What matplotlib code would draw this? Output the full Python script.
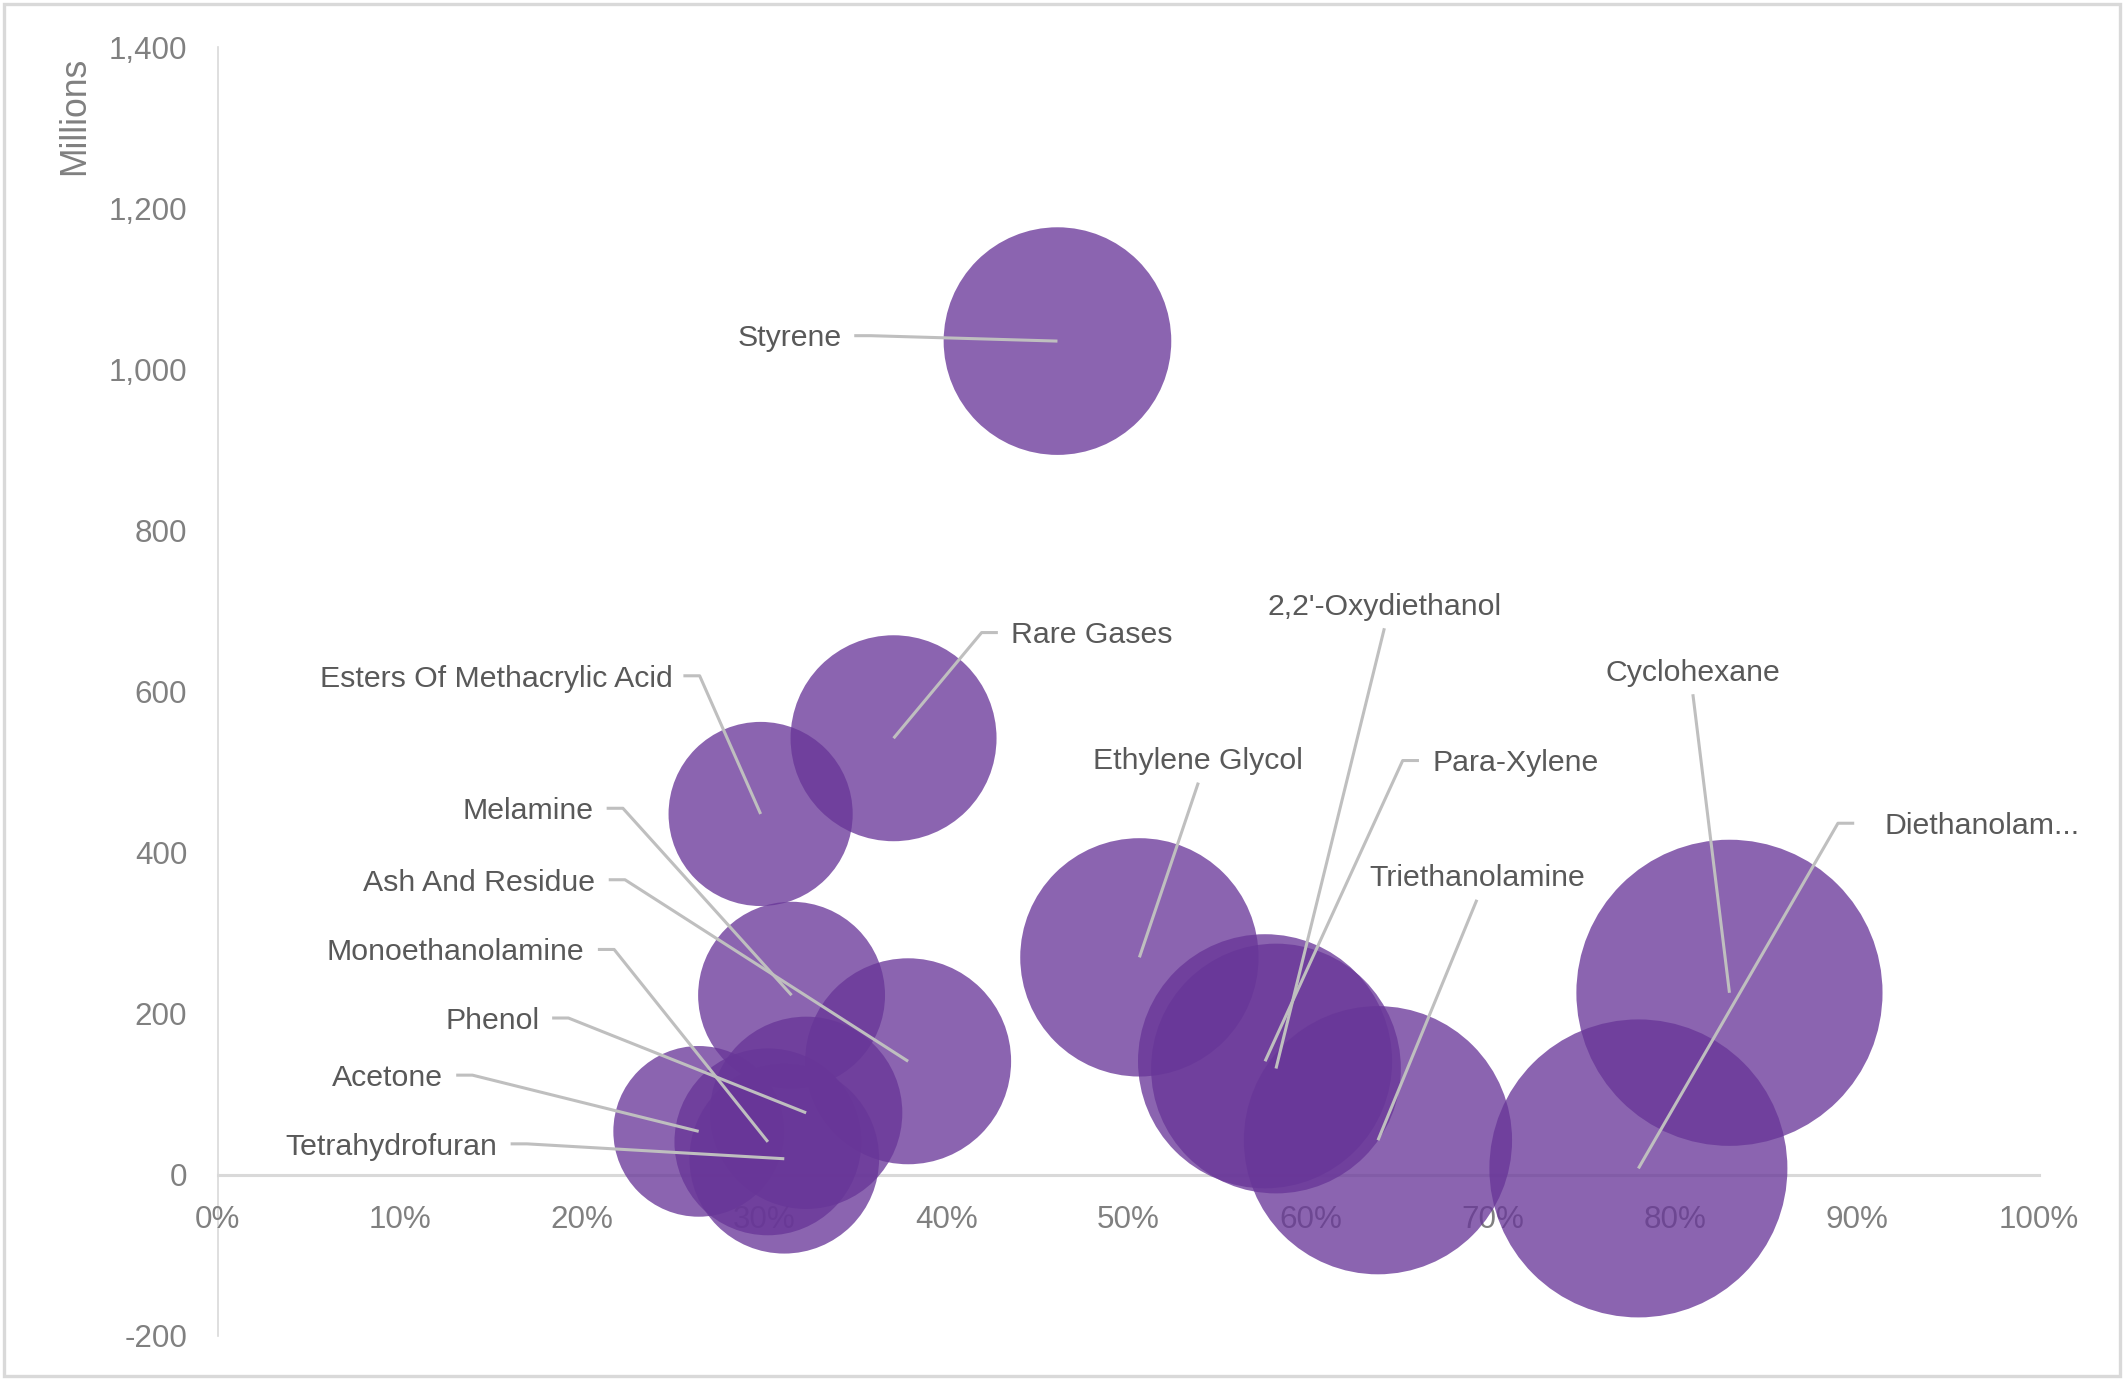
import numpy as np
import matplotlib.pyplot as plt
from matplotlib.ticker import FuncFormatter, PercentFormatter
from matplotlib.patches import Rectangle

# dados (x = participacao, y = valor em milhoes, bolha = tamanho relativo)
products = ["Styrene", "Rare Gases", "Esters Of Methacrylic Acid", "Melamine",
            "Ash And Residue", "Monoethanolamine", "Phenol", "Acetone",
            "Tetrahydrofuran", "Ethylene Glycol", "2,2'-Oxydiethanol", "Para-Xylene",
            "Triethanolamine", "Cyclohexane", "Diethanolam..."]
share = [0.461, 0.371, 0.298, 0.315, 0.379, 0.302, 0.323, 0.264,
         0.311, 0.506, 0.581, 0.575, 0.637, 0.830, 0.780]
value_m = [1035, 542, 448, 223, 141, 41, 77, 54,
           20, 270, 132, 141, 43, 226, 8]
bubble = [70.6, 57.8, 46.2, 47.6, 57.8, 47.6, 50.4, 39.7,
          49.0, 77.4, 85.0, 88.0, 98.0, 127.7, 121.0]

# posicao dos rotulos (deslocamento a partir do centro da bolha) e alinhamento
k = 0.4877
lab_dx = [-159, 87, -65, -146, -231, -135.5, -196.5, -189, -212, 43.5, 80, 123.6, 73, -27, 181.3]
lab_dy = [4, 78, 102, 138, 134, 142, 70, 41.5, 11, 147, 343, 222, 195.5, 238.4, 254.8]
lab_ha = ["right", "left", "right", "right", "right", "right", "right", "right",
          "right", "center", "center", "left", "center", "center", "left"]
lab_gap = [9, 10, 8, 9.5, 10, 10, 9, 10, 10, 18, 18, 10, 18, 18, 22]

plt.rcParams['font.family'] = ['Liberation Sans', 'DejaVu Sans']

fig = plt.figure(figsize=(10.62, 6.9), dpi=200)
ax = fig.add_axes([0.1026, 0.0319, 0.8574, 0.934])

purple = '#683698'
ax.scatter(share, value_m, s=[95.12 * b for b in bubble], color=purple, alpha=0.77,
           linewidths=0, zorder=2, clip_on=False)

ax.set_xlim(0, 1)
ax.set_ylim(-200, 1400)
ax.set_xticks(np.arange(0, 1.01, 0.1))
ax.set_yticks(np.arange(-200, 1401, 200))
ax.xaxis.set_major_formatter(PercentFormatter(1.0, decimals=0))
ax.yaxis.set_major_formatter(FuncFormatter(lambda v, p: f"{v:,.0f}"))
ax.tick_params(length=0, labelsize=11.3, labelcolor='#808080')
ax.tick_params(axis='x', pad=11)
ax.tick_params(axis='y', pad=11)
ax.set_axisbelow(True)

for s in ['top', 'right']:
    ax.spines[s].set_visible(False)
ax.spines['bottom'].set_position(('data', 0))
ax.spines['bottom'].set_color('#D9D9D9')
ax.spines['bottom'].set_linewidth(1.1)
ax.spines['left'].set_color('#D9D9D9')
ax.spines['left'].set_linewidth(0.6)
for s in ['bottom', 'left']:
    ax.spines[s].set_zorder(0.5)

# rotulos com linhas de chamada (traco horizontal curto + linha ate o centro)
fig.canvas.draw()
inv = ax.transData.inverted()
ppt = fig.dpi / 72.0
stub = 12
for i, name in enumerate(products):
    cx, cy = ax.transData.transform((share[i], value_m[i]))
    tx = cx + lab_dx[i] * k * ppt
    ty = cy + lab_dy[i] * k * ppt
    ax.text(*inv.transform((tx, ty - 1.0 * ppt)), name, ha=lab_ha[i], va='center',
            fontsize=10.9, color='#595959', zorder=5)
    g = lab_gap[i] * k * ppt
    st = stub * k * ppt
    if lab_ha[i] == 'right':
        pts = [(tx + g, ty), (tx + g + st, ty), (cx, cy)]
    elif lab_ha[i] == 'left':
        pts = [(tx - g, ty), (tx - g - st, ty), (cx, cy)]
    else:
        pts = [(tx, ty - g), (cx, cy)]
    dpts = inv.transform(pts)
    ax.plot(dpts[:, 0], dpts[:, 1], color='#BFBFBF', lw=1.1, zorder=4,
            solid_capstyle='butt', clip_on=False)

fig.text(75 / 2124, 1 - 116 / 1380, 'Millions', rotation=90, ha='center', va='center',
         fontsize=12.8, color='#808080')

fig.patches.append(Rectangle((0.002, 0.003), 0.996, 0.994, transform=fig.transFigure,
                             fill=False, edgecolor='#D9D9D9', lw=1.2))

fig.savefig('out.png', dpi=200)
